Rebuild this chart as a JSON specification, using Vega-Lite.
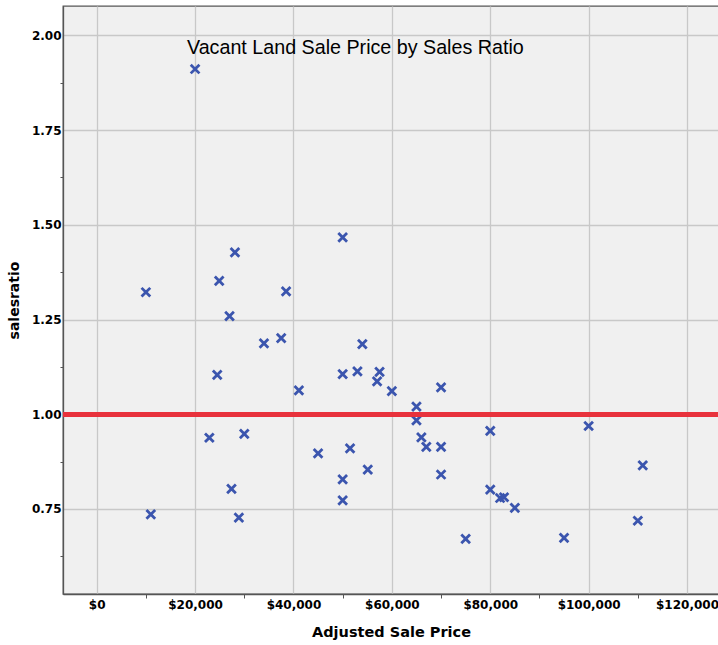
{
  "$schema": "https://vega.github.io/schema/vega-lite/v6.json",
  "width": 656,
  "height": 588,
  "autosize": "none",
  "padding": {"left": 63, "top": 6, "right": 0, "bottom": 51},
  "background": "white",
  "title": {
    "text": "Vacant Land Sale Price by Sales Ratio",
    "orient": "top",
    "anchor": "start",
    "frame": "group",
    "offset": -68,
    "dx": 124,
    "font": "Liberation Sans",
    "fontSize": 19.7,
    "fontWeight": "normal",
    "color": "#000000",
    "baseline": "alphabetic"
  },
  "config": {
    "view": {"fill": "#f0f0f0", "stroke": "#555555", "strokeWidth": 1.3},
    "axis": {
      "labelFont": "DejaVu Sans",
      "labelFontSize": 12,
      "labelFontWeight": "bold",
      "labelColor": "#000000",
      "titleFont": "DejaVu Sans",
      "titleFontSize": 14.5,
      "titleFontWeight": "bold",
      "titleColor": "#000000",
      "domainColor": "#555555",
      "domainWidth": 1.3,
      "tickColor": "#555555",
      "gridColor": "#c8c8c8",
      "gridWidth": 1.3
    }
  },
  "data": {
    "values": [
      {"price": 10000, "ratio": 1.322},
      {"price": 11000, "ratio": 0.736},
      {"price": 20000, "ratio": 1.911},
      {"price": 22900, "ratio": 0.938},
      {"price": 24500, "ratio": 1.104},
      {"price": 24900, "ratio": 1.352},
      {"price": 27000, "ratio": 1.259},
      {"price": 27400, "ratio": 0.803},
      {"price": 28100, "ratio": 1.427},
      {"price": 28900, "ratio": 0.727},
      {"price": 30000, "ratio": 0.948},
      {"price": 34000, "ratio": 1.187},
      {"price": 37500, "ratio": 1.201},
      {"price": 38500, "ratio": 1.324},
      {"price": 41100, "ratio": 1.063},
      {"price": 45000, "ratio": 0.897},
      {"price": 50000, "ratio": 1.467},
      {"price": 50000, "ratio": 1.106},
      {"price": 50000, "ratio": 0.828},
      {"price": 50000, "ratio": 0.773},
      {"price": 51500, "ratio": 0.910},
      {"price": 53000, "ratio": 1.113},
      {"price": 54000, "ratio": 1.185},
      {"price": 55100, "ratio": 0.854},
      {"price": 57000, "ratio": 1.087},
      {"price": 57500, "ratio": 1.112},
      {"price": 60000, "ratio": 1.061},
      {"price": 65000, "ratio": 1.020},
      {"price": 65000, "ratio": 0.984},
      {"price": 66000, "ratio": 0.939},
      {"price": 67000, "ratio": 0.914},
      {"price": 70000, "ratio": 1.071},
      {"price": 70000, "ratio": 0.914},
      {"price": 70000, "ratio": 0.841},
      {"price": 75000, "ratio": 0.671},
      {"price": 80000, "ratio": 0.956},
      {"price": 80000, "ratio": 0.801},
      {"price": 82000, "ratio": 0.779},
      {"price": 82800, "ratio": 0.781},
      {"price": 85000, "ratio": 0.753},
      {"price": 95000, "ratio": 0.674},
      {"price": 100000, "ratio": 0.969},
      {"price": 110000, "ratio": 0.719},
      {"price": 111000, "ratio": 0.865}
    ]
  },
  "layer": [
    {
      "mark": {
        "type": "point",
        "shape": "M-1,-1L1,1M-1,1L1,-1",
        "filled": false,
        "size": 76,
        "strokeWidth": 2.8,
        "color": "#3b55ae",
        "opacity": 1
      },
      "encoding": {
        "x": {
          "field": "price",
          "type": "quantitative",
          "title": "Adjusted Sale Price",
          "scale": {"domain": [-6850, 126500], "nice": false, "zero": false},
          "axis": {
            "values": [0, 10000, 20000, 30000, 40000, 50000, 60000, 70000, 80000, 90000, 100000, 110000, 120000],
            "labelExpr": "datum.value % 20000 === 0 ? format(datum.value, '$,d') : ''",
            "tickSize": 4,
            "labelPadding": 1,
            "tickOpacity": {"condition": {"test": "datum.value % 20000 === 0", "value": 0}, "value": 1},
            "gridOpacity": {"condition": {"test": "datum.value % 20000 === 0", "value": 1}, "value": 0},
            "titlePadding": 15,
            "labelFlush": false,
            "labelOverlap": false
          }
        },
        "y": {
          "field": "ratio",
          "type": "quantitative",
          "title": "salesratio",
          "scale": {"domain": [0.5257, 2.0773], "nice": false, "zero": false},
          "axis": {
            "values": [0.625, 0.75, 0.875, 1.0, 1.125, 1.25, 1.375, 1.5, 1.625, 1.75, 1.875, 2.0],
            "labelExpr": "(datum.value * 4) % 1 === 0 ? format(datum.value, '.2f') : ''",
            "tickSize": 3,
            "labelPadding": -1,
            "tickOpacity": {"condition": {"test": "(datum.value * 4) % 1 === 0", "value": 0}, "value": 1},
            "gridOpacity": {"condition": {"test": "(datum.value * 4) % 1 === 0", "value": 1}, "value": 0},
            "titlePadding": 10,
            "titleFontSize": 14,
            "labelFlush": false,
            "labelOverlap": false
          }
        }
      }
    },
    {
      "mark": {"type": "rule", "color": "#e8323c", "strokeWidth": 4},
      "encoding": {"y": {"datum": 1.0, "type": "quantitative"}}
    }
  ]
}
